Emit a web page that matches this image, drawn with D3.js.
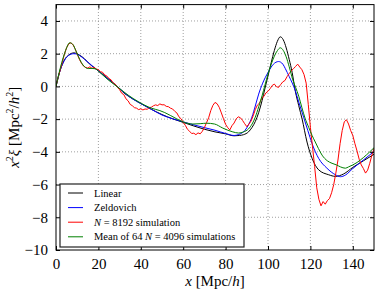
<!DOCTYPE html>
<html>
<head>
<meta charset="utf-8">
<script src="https://cdn.jsdelivr.net/npm/d3@7"></script>
<style>
  body { margin: 0; background: #fff; }
  svg text { font-family: "Liberation Serif", "DejaVu Serif", serif; fill: #000; }
</style>
</head>
<body>
<div class="chart"></div>
<script>
// x^2 xi correlation
var linear = [[0,0],[2,1.0],[4,1.62],[6,1.92],[8.5,2.05],[11,1.92],[13.5,1.68],[15.7,1.38],[18,1.15],[20,0.95],[23,0.65],[26,0.32],[28,0.1],[32.5,-0.45],[36,-0.75],[40,-1.05],[45,-1.4],[50,-1.72],[55,-1.98],[60,-2.2],[65,-2.42],[70,-2.62],[75,-2.78],[80,-2.9],[84,-3.02],[86.5,-3.0],[88.5,-2.95],[90.8,-2.78],[92.5,-2.5],[94,-2.15],[95.6,-1.6],[97.2,-0.87],[98.6,-0.1],[100,0.64],[101.5,1.45],[103,2.2],[104.4,2.75],[105.8,3.03],[107.2,2.85],[108.6,2.35],[110,1.65],[111.4,0.85],[112.9,-0.3],[114.5,-1.18],[116.1,-2.0],[118.4,-3.4],[120.8,-4.4],[123.9,-5.1],[128.6,-5.4],[131.8,-5.5],[135.7,-5.35],[140,-4.95],[145,-4.55],[150,-4.15]];

var zeldovich = [[0,0],[2,1.0],[4,1.6],[6,1.9],[8.5,2.0],[11,1.9],[13.5,1.65],[16,1.38],[18,1.15],[20,0.95],[23,0.62],[26,0.3],[28,0.1],[32.5,-0.42],[36,-0.75],[40,-1.05],[45,-1.4],[50,-1.75],[55,-1.98],[60,-2.17],[65,-2.35],[70,-2.52],[75,-2.68],[80,-2.88],[84,-3.0],[86,-2.95],[88,-2.82],[89.2,-2.68],[90.8,-2.35],[92.4,-1.88],[94,-1.2],[95.6,-0.47],[97.5,0.2],[100,0.85],[102.5,1.35],[105,1.52],[107,1.36],[108.2,1.08],[110,0.6],[112.9,-0.27],[114.5,-0.95],[116.8,-1.88],[118.8,-2.7],[120.8,-3.5],[123.9,-4.4],[127.8,-5.0],[131.8,-5.4],[134.2,-5.52],[136.5,-5.42],[140,-5.02],[145,-4.5],[150,-3.98]];

var nbody8192 = [[0,0],[1,0.55],[2,1.02],[3,1.5],[4,1.98],[5,2.36],[6,2.6],[7,2.66],[8,2.55],[9,2.3],[10,1.98],[11,1.66],[12,1.42],[13,1.24],[14,1.16],[15,1.12],[16,1.2],[17,1.1],[18,1.17],[19,1.06],[20,1.02],[21,0.9],[22,0.86],[23,0.7],[24,0.63],[25,0.48],[26,0.4],[27,0.2],[28,0.13],[29,-0.06],[30,-0.2],[31,-0.42],[32,-0.5],[33,-0.76],[34,-0.88],[35,-1.1],[36,-1.18],[37,-1.3],[38,-1.33],[39,-1.42],[40,-1.37],[41,-1.44],[42,-1.38],[43,-1.4],[44,-1.3],[45,-1.27],[46,-1.18],[47,-1.13],[48,-1.17],[49,-1.07],[50,-1.13],[51,-1.12],[52,-1.22],[53,-1.24],[54,-1.33],[55,-1.38],[56,-1.52],[57,-1.62],[58,-1.86],[59,-1.98],[60,-2.2],[61,-2.38],[62,-2.62],[63,-2.74],[64,-2.88],[65,-2.86],[66,-2.95],[67,-2.84],[68,-2.9],[69,-2.75],[70,-2.52],[71,-2.22],[72,-1.92],[73,-1.48],[74,-1.16],[75,-0.98],[76,-1.06],[77,-1.28],[78,-1.62],[79,-1.98],[80,-2.32],[81,-2.52],[82,-2.66],[83,-2.4],[84,-2.24],[85,-1.98],[86,-1.86],[87,-1.92],[88,-2.08],[89,-2.28],[90,-2.46],[91,-2.3],[92,-2.12],[93,-1.8],[94,-1.42],[95,-1.14],[96,-1.02],[97,-0.74],[98,-0.62],[99,-0.4],[100,-0.3],[101,-0.14],[102,0.06],[103,0.14],[104,-0.02],[105,-0.06],[106,0.12],[107,0.28],[108,0.36],[109,0.6],[110,0.78],[111,0.96],[112,1.08],[113,1.22],[114,1.36],[115,1.18],[116,1.02],[117,0.72],[118,0.2],[119,-1.1],[120,-2.5],[121,-3.7],[122,-4.9],[123,-6.2],[124,-6.9],[125,-7.3],[126,-7.04],[127,-7.2],[128,-6.98],[129,-6.86],[130,-6.5],[131,-6.0],[132,-5.3],[133,-4.5],[134,-3.5],[135,-2.7],[136,-2.16],[137,-2.04],[138,-2.3],[139,-2.7],[140,-3.0],[141,-3.5],[142,-3.95],[143,-4.45],[144,-4.8],[145,-5.02],[146,-5.3],[147,-5.12],[148,-4.7],[149,-4.2],[150,-3.8]];

var mean4096 = [[0,0],[1.5,0.85],[2.7,1.45],[4,2.0],[5,2.36],[6.5,2.67],[8,2.56],[9.3,2.2],[10.5,1.85],[12,1.45],[13.5,1.2],[15.2,1.09],[17,1.1],[18.4,1.08],[20.7,0.85],[24.6,0.4],[29.3,-0.06],[34,-0.53],[38.8,-0.93],[45,-1.33],[49,-1.48],[51.3,-1.6],[56.9,-1.98],[60,-2.17],[64.6,-2.3],[68,-2.28],[71,-2.25],[74.8,-2.3],[78.7,-2.55],[83.4,-2.78],[86.1,-2.85],[88.5,-2.78],[90.8,-2.6],[92.5,-2.3],[94,-1.88],[95.6,-1.25],[97.2,-0.57],[98.6,0.1],[100,0.75],[101.5,1.35],[103,1.85],[104.5,2.2],[105.8,2.36],[107.2,2.2],[108.6,1.8],[110,1.2],[111.7,0.4],[113,-0.05],[114.5,-0.6],[116,-1.3],[117.5,-1.95],[119.2,-2.5],[120.8,-3.0],[122.3,-3.4],[123.8,-3.8],[125.5,-4.2],[128,-4.55],[130.2,-4.7],[132.3,-4.8],[134.2,-4.92],[136.5,-5.0],[138,-4.92],[140,-4.8],[142,-4.65],[145,-4.35],[148,-4.0],[150,-3.75]];

var seriesNames = ["Linear", "Zeldovich", "N = 8192 simulation", "Mean of 64 N = 4096 simulations"];
var seriesColors = ["#000000", "#0000ff", "#ff0000", "#008000"];
var xTicks = [0, 20, 40, 60, 80, 100, 120, 140];
var yTicks = [-10, -8, -6, -4, -2, 0, 2, 4];

var W = 379, H = 294,
    margin = {left: 56, right: 5, top: 4.6, bottom: 44};

var x = d3.scaleLinear().domain([0, 150]).range([margin.left, W - margin.right]),
    y = d3.scaleLinear().domain([-10, 5]).range([H - margin.bottom, margin.top]);

var svg = d3.select('.chart').append('svg')
    .attr('width', W)
    .attr('height', H);

svg.append('rect').attr('width', W).attr('height', H).attr('fill', '#fff');

// grid (dotted, matplotlib classic)
var grid = svg.append('g');
grid.selectAll('.gx').data(xTicks.slice(1)).enter().append('line')
    .attr('x1', function(d) { return x(d); }).attr('x2', function(d) { return x(d); })
    .attr('y1', y(-10)).attr('y2', y(5))
    .attr('stroke', '#888').attr('stroke-width', 0.8).attr('stroke-dasharray', '1,2');
grid.selectAll('.gy').data(yTicks.slice(1)).enter().append('line')
    .attr('y1', function(d) { return y(d); }).attr('y2', function(d) { return y(d); })
    .attr('x1', x(0)).attr('x2', x(150))
    .attr('stroke', '#888').attr('stroke-width', 0.8).attr('stroke-dasharray', '1,2');

svg.append('clipPath').attr('id', 'clip').append('rect')
    .attr('x', x(0)).attr('y', y(5)).attr('width', x(150) - x(0)).attr('height', y(-10) - y(5));

var smooth = d3.line()
    .x(function(d) { return x(d[0]); })
    .y(function(d) { return y(d[1]); })
    .curve(d3.curveMonotoneX);
var jagged = d3.line()
    .x(function(d) { return x(d[0]); })
    .y(function(d) { return y(d[1]); })
    .curve(d3.curveLinear);

var plot = svg.append('g').attr('clip-path', 'url(#clip)');
[linear, zeldovich, nbody8192, mean4096].forEach(function(data, i) {
    plot.append('path')
        .attr('d', (i === 2 ? jagged : smooth)(data))
        .attr('fill', 'none')
        .attr('stroke', seriesColors[i])
        .attr('stroke-width', 1);
});

// axes with inward ticks on all four sides
function tickify(g) {
    g.select('.domain').remove();
    g.selectAll('text').style('font-size', '15px');
}
svg.append('g').attr('transform', 'translate(0,' + y(-10) + ')')
    .call(d3.axisBottom(x).tickValues(xTicks).tickSizeInner(-4).tickSizeOuter(0).tickPadding(8)
        .tickFormat(d3.format('d')))
    .call(tickify);
svg.append('g').attr('transform', 'translate(0,' + y(5) + ')')
    .call(d3.axisTop(x).tickValues(xTicks).tickSizeInner(-4).tickSizeOuter(0).tickFormat(''))
    .call(tickify);
svg.append('g').attr('transform', 'translate(' + x(0) + ',0)')
    .call(d3.axisLeft(y).tickValues(yTicks).tickSizeInner(-4).tickSizeOuter(0).tickPadding(8)
        .tickFormat(function(d) { return d < 0 ? '\u2212' + (-d) : d; }))
    .call(tickify);
svg.append('g').attr('transform', 'translate(' + x(150) + ',0)')
    .call(d3.axisRight(y).tickValues(yTicks).tickSizeInner(-4).tickSizeOuter(0).tickFormat(''))
    .call(tickify);

svg.append('rect')
    .attr('x', x(0)).attr('y', y(5))
    .attr('width', x(150) - x(0)).attr('height', y(-10) - y(5))
    .attr('fill', 'none').attr('stroke', '#000').attr('stroke-width', 1);

// axis labels
var xl = svg.append('text')
    .attr('x', (x(0) + x(150)) / 2).attr('y', 286)
    .attr('text-anchor', 'middle').style('font-size', '15px');
xl.append('tspan').style('font-style', 'italic').text('x');
xl.append('tspan').text(' [Mpc/');
xl.append('tspan').style('font-style', 'italic').text('h');
xl.append('tspan').text(']');

var yl = svg.append('text')
    .attr('transform', 'translate(19,' + ((y(5) + y(-10)) / 2) + ') rotate(-90)')
    .attr('text-anchor', 'middle').style('font-size', '15px');
yl.append('tspan').style('font-style', 'italic').text('x');
yl.append('tspan').attr('dy', -6).style('font-size', '10px').text('2');
yl.append('tspan').attr('dy', 6).style('font-style', 'italic').text('\u03be');
yl.append('tspan').text(' [Mpc');
yl.append('tspan').attr('dy', -6).style('font-size', '10px').text('2');
yl.append('tspan').attr('dy', 6).text('/');
yl.append('tspan').style('font-style', 'italic').text('h');
yl.append('tspan').attr('dy', -6).style('font-size', '10px').text('2');
yl.append('tspan').attr('dy', 6).text(']');

// legend
var legend = svg.append('g').attr('transform', 'translate(60,184)');
legend.append('rect')
    .attr('width', 184).attr('height', 63)
    .attr('fill', '#fff').attr('stroke', '#222').attr('stroke-width', 1.2);
var rows = legend.selectAll('.row').data(seriesNames).enter().append('g')
    .attr('transform', function(d, i) { return 'translate(0,' + (9 + i * 14.6) + ')'; });
rows.append('line')
    .attr('x1', 8).attr('x2', 23)
    .attr('stroke', function(d, i) { return seriesColors[i]; })
    .attr('stroke-width', 1);
rows.append('text')
    .attr('x', 34).attr('dy', '0.35em')
    .style('font-size', '10.5px')
    .each(function(d) {
        var t = d3.select(this), m = d.match(/^(.*?)N( = .*)$/);
        if (!m) { t.text(d); return; }
        t.append('tspan').text(m[1]);
        t.append('tspan').style('font-style', 'italic').text('N');
        t.append('tspan').text(m[2]);
    });
</script>
</body>
</html>
